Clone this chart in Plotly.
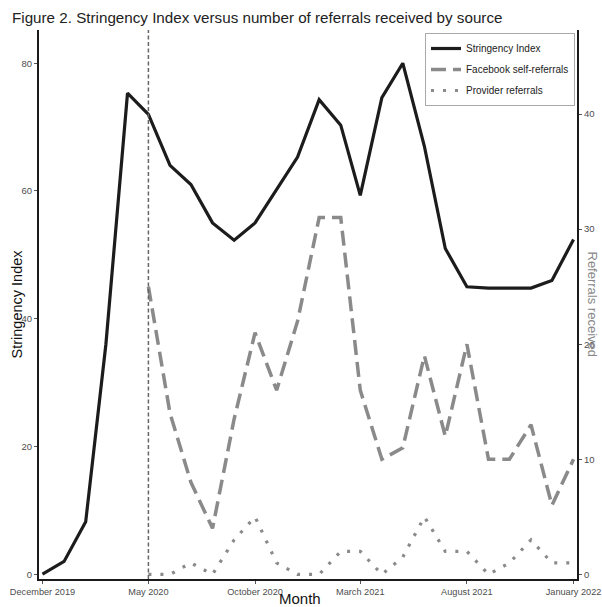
import plotly.graph_objects as go

# ---- data ----
months = ["2019-12-01", "2020-01-01", "2020-02-01", "2020-03-01", "2020-04-01", "2020-05-01",
          "2020-06-01", "2020-07-01", "2020-08-01", "2020-09-01", "2020-10-01", "2020-11-01",
          "2020-12-01", "2021-01-01", "2021-02-01", "2021-03-01", "2021-04-01", "2021-05-01",
          "2021-06-01", "2021-07-01", "2021-08-01", "2021-09-01", "2021-10-01", "2021-11-01",
          "2021-12-01", "2022-01-01"]
stringency = [0, 2, 8.2, 36, 75.3, 72, 64, 61, 55, 52.3, 55, 60.3, 65.3, 74.3, 70.3, 59.3,
              74.6, 80, 67, 51, 45, 44.8, 44.8, 44.8, 46, 52.4]
referral_months = months[5:]
facebook_referrals = [25, 14, 8, 4, 13.5, 21, 16, 22, 31, 31, 16, 10, 11, 19, 12, 20,
                      10, 10, 13, 6, 10]
provider_referrals = [0, 0, 1, 0, 3, 5, 1, 0, 0, 2, 2, 0, 1.5, 5, 2, 2, 0, 1, 3, 1, 1]

tick_dates = ["2019-12-01", "2020-05-01", "2020-10-01", "2021-03-01", "2021-08-01", "2022-01-01"]
tick_text = ["December 2019", "May 2020", "October 2020", "March 2021", "August 2021", "January 2022"]
left_ticks = [0, 20, 40, 60, 80]
right_ticks = [0, 10, 20, 30, 40]
lockdown_date = "2020-05-01"

FONT = "Liberation Sans, Arial, Helvetica, sans-serif"
GREY = "#8a8a8a"
TICKC = "#555555"

W, H = 602, 607

fig = go.Figure()
fig.add_trace(go.Scatter(
    x=months, y=stringency, mode="lines", name="Stringency Index",
    line=dict(color="#1c1c1c", width=3.2), legendgroup="a"))
fig.add_trace(go.Scatter(
    x=referral_months, y=facebook_referrals, mode="lines", name="Facebook self-referrals",
    line=dict(color=GREY, width=3.5, dash="15px,7px"), yaxis="y2", legendgroup="b"))
fig.add_trace(go.Scatter(
    x=referral_months, y=provider_referrals, mode="lines", name="Provider referrals",
    line=dict(color=GREY, width=3.2, dash="3px,9px"), yaxis="y2", legendgroup="c"))

fig.add_shape(type="line", xref="x", yref="paper", x0=lockdown_date, x1=lockdown_date,
              y0=0, y1=1, line=dict(color="#666666", width=1.5, dash="4px,2.5px"))

fig.update_layout(
    width=W, height=H,
    margin=dict(l=39, r=25, t=30, b=28, autoexpand=False),
    paper_bgcolor="white", plot_bgcolor="white",
    font=dict(family=FONT, size=10, color="#222"),
    title=dict(text="Figure 2. Stringency Index versus number of referrals received by source",
               x=12/W, xanchor="left", xref="container",
               y=1 - 18/H, yanchor="middle", yref="container",
               font=dict(size=15.2, color="#222", family=FONT)),
    xaxis=dict(type="date", range=["2019-11-26", "2022-01-06"],
               tickvals=tick_dates, ticktext=tick_text, automargin=False,
               ticklabeloverflow="allow",
               showline=True, linecolor="#1a1a1a", linewidth=2, mirror=False,
               ticks="outside", ticklen=3, tickwidth=1, tickcolor=TICKC,
               tickfont=dict(size=9.2, color="#4d4d4d"), showgrid=False, zeroline=False),
    yaxis=dict(range=[-0.75, 85.2], tickvals=left_ticks, automargin=False,
               showline=True, linecolor="#1a1a1a", linewidth=2,
               ticks="outside", ticklen=3, tickwidth=1, tickcolor=TICKC,
               tickfont=dict(size=9.5, color="#4d4d4d"), showgrid=False, zeroline=False),
    yaxis2=dict(range=[-0.4, 47.3], tickvals=right_ticks, overlaying="y", side="right",
                anchor="x", automargin=False, showline=True, linecolor="#1a1a1a", linewidth=2,
                ticks="outside", ticklen=3, tickwidth=1, tickcolor=TICKC,
                tickfont=dict(size=9.5, color="#4d4d4d"), showgrid=False, zeroline=False),
    legend=dict(x=(425-39)/538, y=(579-33)/549, xanchor="left", yanchor="top",
                bgcolor="white", bordercolor="#aaaaaa", borderwidth=1,
                font=dict(size=10, color="#222", family=FONT),
                tracegroupgap=2, traceorder="grouped"),
    showlegend=True,
)

fig.add_annotation(text="Stringency Index", xref="paper", yref="paper", x=-(39-16)/538, y=0.5,
                   textangle=-90, showarrow=False, xanchor="center", yanchor="middle",
                   font=dict(size=14.5, color="#111", family=FONT))
fig.add_annotation(text="Referrals received", xref="paper", yref="paper", x=1 + (592-577)/538, y=0.5,
                   textangle=90, showarrow=False, xanchor="center", yanchor="middle",
                   font=dict(size=13, color="#888888", family=FONT))
fig.add_annotation(text="Month", xref="paper", yref="paper", x=(300-39)/538, y=-(599-579)/549,
                   showarrow=False, xanchor="center", yanchor="middle",
                   font=dict(size=15, color="#111", family=FONT))

fig.write_html("out.html", config={"displayModeBar": False},
               post_script="document.body.style.margin='0';document.body.style.overflow='hidden';")
